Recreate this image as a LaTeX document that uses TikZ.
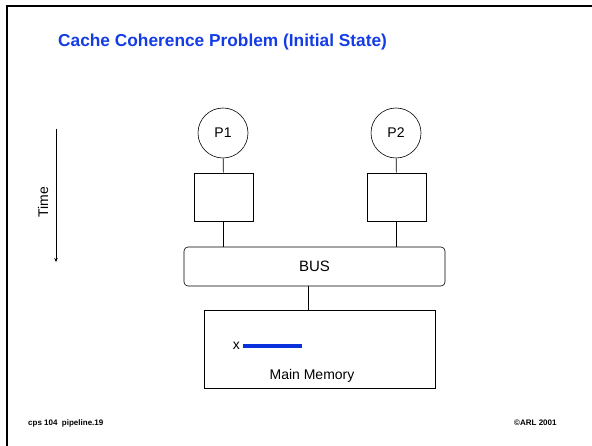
\documentclass[tikz,border=0pt]{standalone}
\usepackage{fontspec}
\setmainfont{Liberation Sans}
\usetikzlibrary{arrows.meta}
\definecolor{titleblue}{RGB}{20,60,230}
\definecolor{barblue}{RGB}{10,50,220}
\begin{document}
\begin{tikzpicture}[x=1pt,y=-1pt,
  proc/.style={draw,circle,minimum size=50pt,inner sep=0pt,font=\fontsize{14}{16}\selectfont,line width=0.6pt},
  cachebox/.style={draw,minimum width=59pt,minimum height=48pt,inner sep=0pt,line width=0.6pt},
  busbox/.style={draw,rounded corners=4pt,minimum width=261pt,minimum height=39pt,inner sep=0pt,font=\fontsize{15}{17}\selectfont,line width=0.6pt},
  membox/.style={draw,minimum width=231pt,minimum height=78pt,inner sep=0pt,line width=1pt},
  wire/.style={line width=0.6pt},
  lbl/.style={font=\fontsize{14}{16}\selectfont,inner sep=0pt},
  foot/.style={font=\bfseries\fontsize{8}{9}\selectfont,inner sep=0pt}]
\useasboundingbox (0,0) rectangle (592,446);
% slide frame
\draw[line width=2pt] (7,446) -- (7,6) -- (592,6);
% title
\node[anchor=west,inner sep=0pt,text=titleblue,font=\bfseries\fontsize{17.3}{20}\selectfont] (title) at (58,42) {Cache Coherence Problem (Initial State)};
% processors, caches, bus, memory
\node[proc] (p1) at (223,133) {P1};
\node[proc] (p2) at (396,133) {P2};
\node[cachebox] (c1) at (223.5,197) {};
\node[cachebox] (c2) at (396.5,197) {};
\node[busbox] (bus) at (314.5,266.5) {BUS};
\node[membox] (mem) at (319.5,350) {};
\draw[wire] (p1) -- (c1);
\draw[wire] (p2) -- (c2);
\draw[wire] (c1) -- (c1 |- bus.north);
\draw[wire] (c2) -- (c2 |- bus.north);
\draw[wire] (bus.south -| 308,0) -- (mem.north -| 308,0);
% memory contents
\node[anchor=east,lbl] (xlabel) at (240,346) {x};
\coordinate (xs) at (243,346);
\coordinate (xe) at (302,346);
\draw[barblue,line width=4pt] (xs) -- (xe);
\node[lbl] (memlabel) at (312,376) {Main Memory};
% time axis
\coordinate (t0) at (56,129);
\coordinate (t1) at (56,262);
\draw[line width=0.6pt,-{Stealth[length=4pt,width=3.5pt]}] (t0) -- (t1);
\node[rotate=90,lbl] (time) at (43,202) {Time};
% footer
\node[foot,anchor=west] (course) at (28,423) {cps 104\ \ pipeline.19};
\node[foot,anchor=west] (copy) at (514,423) {©ARL 2001};
\end{tikzpicture}
\end{document}
